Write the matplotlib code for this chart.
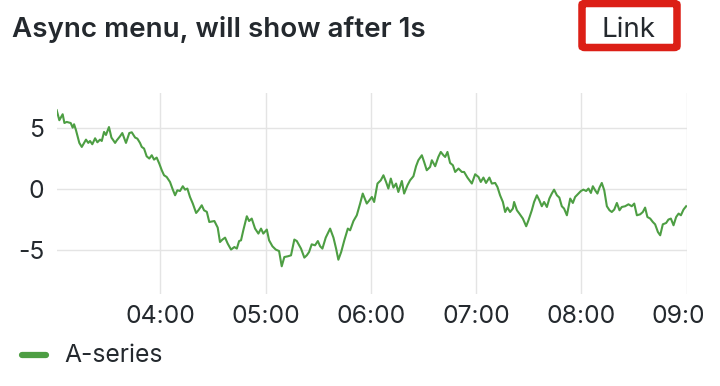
import matplotlib
matplotlib.use("Agg")
import matplotlib.pyplot as plt
from matplotlib.lines import Line2D
from matplotlib.patches import FancyBboxPatch, Rectangle
from matplotlib.ticker import FixedLocator, FuncFormatter

# ---- data ----
title = "Async menu, will show after 1s"
link_text = "Link"
series_name = "A-series"

# minutes since midnight
minutes = [180.9, 182.4, 184.3, 185.3, 186.6, 188.9, 190.0, 190.8, 191.9, 193.8,
           195.2, 197.6, 198.9, 199.9, 201.2, 202.8, 204.1, 205.6, 206.6, 207.9,
           209.0, 210.7, 212.1, 214.2, 215.1, 217.0, 218.3, 220.4, 222.3, 223.7,
           225.6, 226.9, 228.4, 229.4, 230.7, 232.2, 233.7, 235.1, 236.4, 237.9,
           239.4, 240.8, 242.1, 243.6, 245.5, 247.1, 248.4, 249.7, 251.2, 252.8,
           254.1, 255.4, 256.9, 258.5, 260.4, 261.7, 263.6, 264.9, 266.5, 267.9,
           270.8, 272.7, 274.0, 275.4, 276.9, 278.4, 280.3, 282.2, 283.6, 284.9,
           286.0, 287.3, 289.3, 290.6, 292.1, 294.0, 295.9, 297.4, 298.7, 300.7,
           302.0, 303.9, 305.8, 307.7, 309.2, 310.7, 312.7, 314.5, 316.4, 317.8,
           320.2, 322.1, 323.5, 324.8, 326.3, 328.2, 329.8, 331.1, 332.4, 334.3,
           336.8, 338.7, 340.2, 341.5, 343.1, 344.9, 346.9, 348.2, 350.1, 352.0,
           353.9, 355.4, 357.7, 359.2, 360.6, 361.9, 363.8, 365.7, 367.2, 368.7,
           370.0, 371.4, 372.9, 374.4, 375.7, 377.7, 379.0, 380.9, 382.4, 384.3,
           385.8, 387.1, 389.1, 390.4, 391.9, 393.8, 394.8, 396.7, 398.5, 399.9,
           401.4, 402.4, 403.7, 405.2, 406.8, 408.1, 410.0, 411.9, 413.2, 415.1,
           417.6, 419.5, 421.4, 422.7, 424.2, 425.7, 427.6, 429.0, 430.9, 432.2,
           433.7, 435.3, 436.6, 437.9, 439.4, 441.0, 441.7, 443.3, 444.7, 446.7,
           448.6, 449.9, 451.8, 453.1, 454.7, 456.1, 457.5, 458.8, 460.4, 461.8,
           463.2, 464.5, 466.1, 467.5, 468.9, 470.2, 471.8, 473.7, 475.2, 476.5,
           478.4, 479.8, 481.2, 482.8, 484.1, 485.5, 486.6, 487.9, 489.2, 490.4,
           491.7, 493.1, 494.6, 496.1, 497.4, 498.8, 500.3, 501.8, 503.1, 505.0,
           506.9, 508.8, 510.2, 511.7, 513.6, 515.1, 516.4, 517.7, 519.3, 520.8,
           522.1, 523.7, 525.0, 526.5, 528.4, 529.7, 531.1, 532.6, 534.1, 535.5,
           536.8, 538.3, 539.8]

values = [6.48, 5.66, 6.15, 5.43, 5.52, 5.43, 5.05, 5.33, 4.84, 3.80,
          3.47, 4.07, 3.80, 3.96, 3.69, 4.18, 3.85, 4.07, 3.96, 4.70,
          4.45, 5.10, 4.24, 3.80, 4.00, 4.34, 4.61, 3.80, 4.61, 4.67,
          4.24, 4.15, 3.80, 3.47, 3.34, 2.70, 2.52, 2.79, 2.43, 2.60,
          2.10, 1.56, 1.15, 1.01, 0.60, -0.03, -0.49, -0.08, -0.14, 0.25,
          -0.03, 0.06, -0.63, -1.17, -1.94, -1.72, -1.31, -1.72, -1.85, -2.68,
          -2.60, -3.14, -4.32, -4.12, -3.96, -4.45, -4.94, -4.73, -4.86, -4.24,
          -4.18, -3.36, -2.21, -2.60, -2.40, -3.22, -3.63, -3.22, -3.63, -3.30,
          -4.18, -4.67, -4.94, -5.06, -6.31, -5.55, -5.49, -5.41, -4.12, -4.24,
          -4.86, -5.60, -5.41, -5.14, -4.51, -4.59, -4.24, -4.67, -4.86, -3.96,
          -3.22, -3.96, -4.86, -5.77, -5.14, -4.18, -3.22, -3.36, -2.60, -2.13,
          -1.17, -0.35, -1.17, -0.90, -0.63, -1.04, 0.47, 0.74, 1.15, 0.60,
          0.06, 0.88, 0.14, 0.47, -0.22, 0.68, -0.35, 0.33, 0.74, 1.07,
          1.89, 2.38, 2.79, 2.24, 1.56, 1.83, 2.38, 1.89, 2.65, 3.06,
          2.79, 2.65, 3.06, 2.16, 1.97, 1.42, 1.70, 1.42, 1.42, 0.96,
          0.47, 1.23, 1.01, 0.60, 0.96, 0.52, 0.96, 0.47, 0.52, 0.19,
          -0.49, -1.04, -1.86, -1.50, -1.86, -1.58, -1.04, -1.72, -1.99, -2.40,
          -3.03, -2.54, -1.72, -1.04, -0.49, -0.90, -1.39, -1.04, -1.45, -0.76,
          -0.35, -0.03, -0.49, -0.68, -1.39, -1.58, -2.13, -0.76, -1.12, -0.63,
          -0.35, -0.14, -0.03, -0.14, 0.06, -0.30, 0.25, -0.08, -0.35, 0.14,
          0.52, -0.08, -1.39, -1.72, -1.86, -1.66, -1.12, -1.72, -1.45, -1.39,
          -1.23, -1.39, -1.17, -2.13, -2.05, -1.86, -1.50, -2.27, -2.40, -2.68,
          -2.87, -3.50, -3.77, -2.87, -2.76, -2.48, -2.40, -2.95, -2.27, -1.99,
          -2.13, -1.66, -1.39]

y_ticks = [-5, 0, 5]
x_ticks = [240, 300, 360, 420, 480, 540]

# ---- style ----
plt.rcParams['font.family'] = ['Inter', 'DejaVu Sans']
W, H = 720, 386
TEXT = '#24292e'
GREEN = '#4d9e43'
GRID = '#e4e4e4'
LABEL_SIZE = 17.8

fig = plt.figure(figsize=(W / 100, H / 100), dpi=100)
fig.patch.set_facecolor('white')

def fx(px):
    return px / W

def fy(py):
    return 1 - py / H

left, right, top, bottom = 56.7, 686.5, 93.0, 294.0
ax = fig.add_axes([fx(left), fy(bottom), fx(right) - fx(left), (bottom - top) / H])
ax.plot(minutes, values, color=GREEN, lw=1.5, solid_joinstyle='round')
ax.set_xlim(180.9, 540.0)
ax.set_ylim(-8.58, 7.89)

for s in ax.spines.values():
    s.set_visible(False)
ax.xaxis.set_major_locator(FixedLocator(x_ticks))
ax.xaxis.set_major_formatter(FuncFormatter(lambda v, p: f"{int(v // 60):02d}:{int(v % 60):02d}"))
ax.yaxis.set_major_locator(FixedLocator(y_ticks))
ax.yaxis.set_major_formatter(FuncFormatter(lambda v, p: f"{int(v)}"))
ax.grid(True, color=GRID, lw=1.0)
ax.set_axisbelow(True)
ax.tick_params(axis='both', length=0, labelsize=LABEL_SIZE, colors=TEXT)
ax.tick_params(axis='x', pad=8)
ax.tick_params(axis='y', pad=9)

# the panel canvas ends a little before the image edge: clip tick labels there
clip_rect = Rectangle((0, 0), fx(703), 1, transform=fig.transFigure, visible=False)
fig.add_artist(clip_rect)
fig.canvas.draw()
for lbl in ax.get_xticklabels():
    lbl.set_clip_on(True)
    lbl.set_clip_path(clip_rect)

# title
fig.text(fx(12), fy(37.3), title, ha='left', va='baseline', fontsize=20,
         fontweight='semibold', color=TEXT)

# link box
box = FancyBboxPatch((fx(582), fy(47.5)), fx(95), (47.5 - 3.5) / H,
                     boxstyle="round,pad=0,rounding_size=0.004",
                     transform=fig.transFigure, facecolor='white',
                     edgecolor='#dc1f16', lw=5.4)
fig.add_artist(box)
fig.text(fx(628.5), fy(37.3), link_text, ha='center', va='baseline', fontsize=20,
         color=TEXT)

# legend
fig.add_artist(Line2D([fx(22), fx(46)], [fy(355), fy(355)], color=GREEN, lw=4.5,
                      solid_capstyle='round', transform=fig.transFigure))
fig.text(fx(64), fy(356), series_name, ha='left', va='center', fontsize=LABEL_SIZE,
         color=TEXT)

fig.savefig('out.png', dpi=100, facecolor='white')
